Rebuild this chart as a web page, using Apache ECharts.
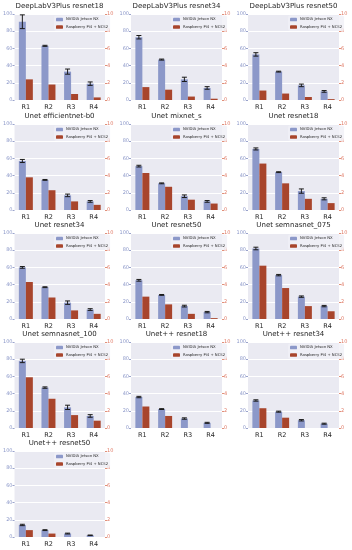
<!DOCTYPE html>
<html><head><meta charset="utf-8">
<script src="https://cdn.jsdelivr.net/npm/echarts@6/dist/echarts.min.js"></script>
<style>html,body{margin:0;padding:0;background:#fff}#c{width:352px;height:550px}</style>
</head><body><div id="c"></div>
<script>
var categories = ['R1','R2','R3','R4'];
var seriesNames = ['NVIDIA Jetson NX','Raspberry Pi4 + NCS2'];
var leftTicks = [0,20,40,60,80,100];
var rightTicks = [0,2,4,6,8,10];
var titles = ['DeepLabV3Plus resnet18','DeepLabV3Plus resnet34','DeepLabV3Plus resnet50',
  'Unet efficientnet-b0','Unet mixnet_s','Unet resnet18',
  'Unet resnet34','Unet resnet50','Unet semnasnet_075',
  'Unet semnasnet_100','Unet++ resnet18','Unet++ resnet34',
  'Unet++ resnet50'];
var nxFps = [
  [91,63,33,19],[73,47,24,14],[53,33,17,10],
  [57,35,17,10],[51,31,16,10],[71,44,22,13],
  [60,37,19,11],[45,28,15,8],[82,51,26,15],
  [78,47,24,14],[36,22,11,6],[32,19,9,5],
  [14,8,4,2]];
var nxErr = [
  [8,0.6,3,2],[2,0.6,2.5,1.5],[2,0.5,1.5,1],
  [1.8,0.5,1.5,1],[1,0.5,1.5,1],[1.2,0.5,2.5,1.2],
  [1,0.5,2,1],[1,0.5,1,0.8],[1.5,0.8,0.8,0.8],
  [2,0.8,2.5,1.5],[0.8,0.5,0.8,0.6],[0.8,0.6,0.8,0.6],
  [0.8,0.5,0.5,0.3]];
var piFps = [
  [2.4,1.8,0.7,0.3],[1.5,1.2,0.4,0.15],[1.1,0.75,0.35,0.1],
  [3.8,2.3,1.0,0.6],[4.3,2.7,1.2,0.75],[5.4,3.1,1.3,0.8],
  [4.3,2.5,1.0,0.6],[2.6,1.7,0.6,0.1],[6.2,3.6,1.5,0.9],
  [5.9,3.4,1.5,0.85],[2.5,1.4,0,0],[2.3,1.2,0,0],
  [0.8,0.4,0,0]];

var BLUE = '#8c98c9', RED = '#a8452c';
var BAR_W = 7;
var colLeft = [14,131,248], gW = 91, gH = 86;
var rowTop = [14,124,233,342,451];
var FONT = 'DejaVu Sans';

var grids=[],xAxes=[],yAxes=[],series=[],titleArr=[],legends=[];
titles.forEach(function(t,i){
  var r = Math.floor(i/3), c = i%3;
  var L = colLeft[c], T = rowTop[r];
  grids.push({left:L, top:T, width:gW, height:gH, show:true, backgroundColor:'#eaeaf2', borderWidth:0});
  titleArr.push({text:t, left:L+gW/2, top:T-11, textAlign:'center', padding:0,
    textStyle:{fontSize:7, fontWeight:'normal', color:'#262626', fontFamily:FONT}});
  xAxes.push({type:'category', gridIndex:i, data:categories,
    axisLine:{show:false}, axisTick:{show:false},
    axisLabel:{fontSize:6.5, color:'#262626', margin:4, fontFamily:FONT},
    splitLine:{show:false}});
  yAxes.push({type:'value', gridIndex:i, min:0, max:100, interval:20, position:'left',
    axisLine:{show:false}, axisTick:{show:true, length:2, lineStyle:{color:'#9aa3cc'}},
    axisLabel:{fontSize:5, color:'#8c98c9', margin:2, fontFamily:FONT},
    splitLine:{show:true, lineStyle:{color:'#ffffff', width:1}}});
  yAxes.push({type:'value', gridIndex:i, min:0, max:10, interval:2, position:'right',
    axisLine:{show:false}, axisTick:{show:true, length:2, lineStyle:{color:'#e0907a'}},
    axisLabel:{fontSize:5, color:'#e07a66', margin:2, fontFamily:FONT},
    splitLine:{show:false}});
  series.push({name:seriesNames[0], type:'bar', xAxisIndex:i, yAxisIndex:2*i,
    data:nxFps[i], barWidth:BAR_W, barGap:'0%', itemStyle:{color:BLUE}});
  series.push({name:seriesNames[1], type:'bar', xAxisIndex:i, yAxisIndex:2*i+1,
    data:piFps[i], barWidth:BAR_W, barGap:'0%', itemStyle:{color:RED}});
  series.push({type:'custom', xAxisIndex:i, yAxisIndex:2*i, z:5,
    data:nxFps[i].map(function(v,k){return [k,v,nxErr[i][k]];}),
    renderItem:function(params,api){
      var x=api.value(0), m=api.value(1), e=api.value(2);
      var tp=api.coord([x,m+e]), bt=api.coord([x,m-e]);
      var cx=tp[0]-BAR_W/2;
      var st={stroke:'#1a1a1a', lineWidth:1};
      return {type:'group', children:[
        {type:'line', shape:{x1:cx,y1:tp[1],x2:cx,y2:bt[1]}, style:st},
        {type:'line', shape:{x1:cx-2.5,y1:tp[1],x2:cx+2.5,y2:tp[1]}, style:st},
        {type:'line', shape:{x1:cx-2.5,y1:bt[1],x2:cx+2.5,y2:bt[1]}, style:st}
      ]};
    }});
  legends.push({data:seriesNames, orient:'vertical', left:L+40, top:T+1.5,
    itemWidth:7, itemHeight:3.5, itemGap:3.5, padding:[2,2],
    backgroundColor:'rgba(240,240,246,0.8)', borderRadius:2,
    textStyle:{fontSize:3.8, color:'#262626', fontFamily:FONT, padding:[0,0,0,-2]}, selectedMode:false});
});

var chart = echarts.init(document.getElementById('c'), null, {renderer:'canvas'});
chart.setOption({
  backgroundColor:'#ffffff', animation:false,
  color:[BLUE,RED],
  title:titleArr, legend:legends, grid:grids, xAxis:xAxes, yAxis:yAxes, series:series
});
</script></body></html>
